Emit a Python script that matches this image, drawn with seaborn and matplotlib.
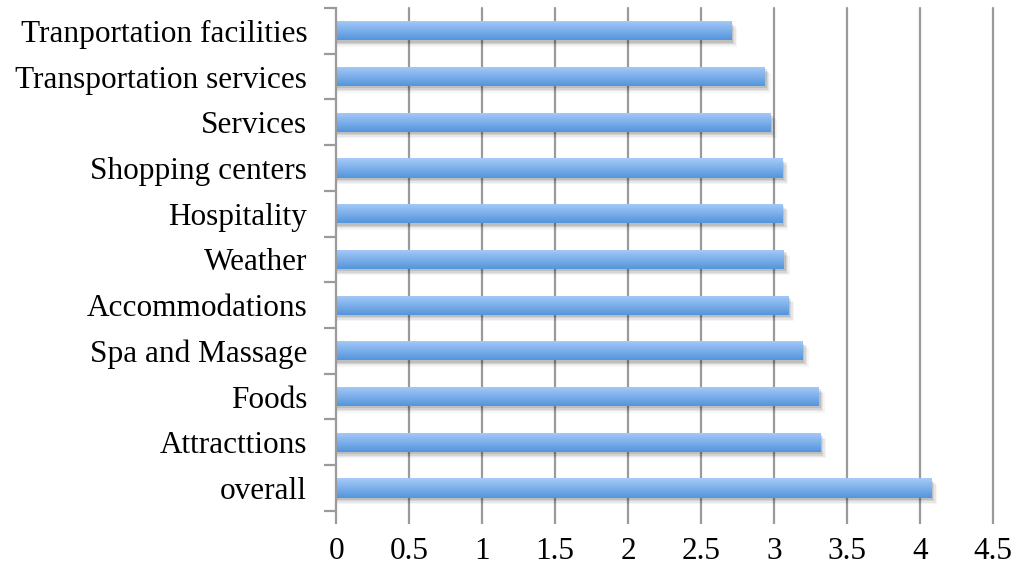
import numpy as np
import pandas as pd
import matplotlib
matplotlib.use("Agg")
import matplotlib.pyplot as plt
import seaborn as sns
from matplotlib.patches import Rectangle

categories = ["Tranportation facilities", "Transportation services", "Services",
              "Shopping centers", "Hospitality", "Weather", "Accommodations",
              "Spa and Massage", "Foods", "Attracttions", "overall"]
scores = [2.71, 2.94, 2.98, 3.06, 3.06, 3.07, 3.10, 3.20, 3.31, 3.32, 4.08]
x_ticks = [0, 0.5, 1, 1.5, 2, 2.5, 3, 3.5, 4, 4.5]

df = pd.DataFrame({"category": categories, "score": scores})

sns.set_style("white")
plt.rcParams["font.family"] = ["Liberation Serif", "DejaVu Serif"]

fig = plt.figure(figsize=(10.16, 5.67), dpi=100)
ax = fig.add_axes([0.331, 0.099, 0.646, 0.887])

sns.barplot(data=df, x="score", y="category", orient="h", width=0.42,
            color="#7aaeea", ax=ax, zorder=3)

grey = "#9a9a9a"
ax.set_xticks(x_ticks)
ax.set_xticklabels([f"{t:g}" for t in x_ticks])
for t in x_ticks[1:]:
    ax.axvline(t, color=grey, linewidth=1.6, zorder=0, clip_on=False)

# gradient fill + soft shadow for bars
grad = np.linspace(0, 1, 64).reshape(-1, 1)
cmap = matplotlib.colors.LinearSegmentedColormap.from_list("bar", ["#a6cbf9", "#5495db"])
for p in list(ax.patches):
    x0, y0 = p.get_x(), p.get_y()
    w, h = p.get_width(), p.get_height()
    for k, a in enumerate([0.10, 0.08, 0.06, 0.04]):
        sh = Rectangle((x0, y0 + 0.05 + k * 0.03), w + 0.01 + k * 0.01, h,
                       facecolor="black", edgecolor="none", alpha=a, zorder=2)
        ax.add_patch(sh)
    p.set_facecolor("none")
    p.set_edgecolor("none")
    im = ax.imshow(grad, cmap=cmap, aspect="auto", extent=(x0, x0 + w, y0 + h, y0),
                   zorder=3.5, interpolation="bilinear")
    im.set_clip_path(p)
ax.set_xlim(0, 4.5)
ax.set_ylim(len(categories) - 0.5, -0.5)

for s in ["top", "right", "bottom"]:
    ax.spines[s].set_visible(False)
ax.spines["left"].set_color(grey)
ax.spines["left"].set_linewidth(1.6)
ax.spines["left"].set_zorder(5)

ax.set_yticks(np.arange(-0.5, len(categories), 1), minor=True)
ax.tick_params(axis="y", which="major", length=0, pad=21, labelsize=22.5, labelcolor="black")
ax.tick_params(axis="y", which="minor", length=9, width=1.6, color=grey, left=True)
ax.tick_params(axis="x", which="major", length=9, width=1.6, color=grey,
               bottom=True, direction="out", pad=10, labelsize=22.5, labelcolor="black")
for lbl in ax.get_yticklabels():
    lbl.set_va("center_baseline")
ax.set_xlabel("")
ax.set_ylabel("")

fig.savefig("out.png", dpi=100)
